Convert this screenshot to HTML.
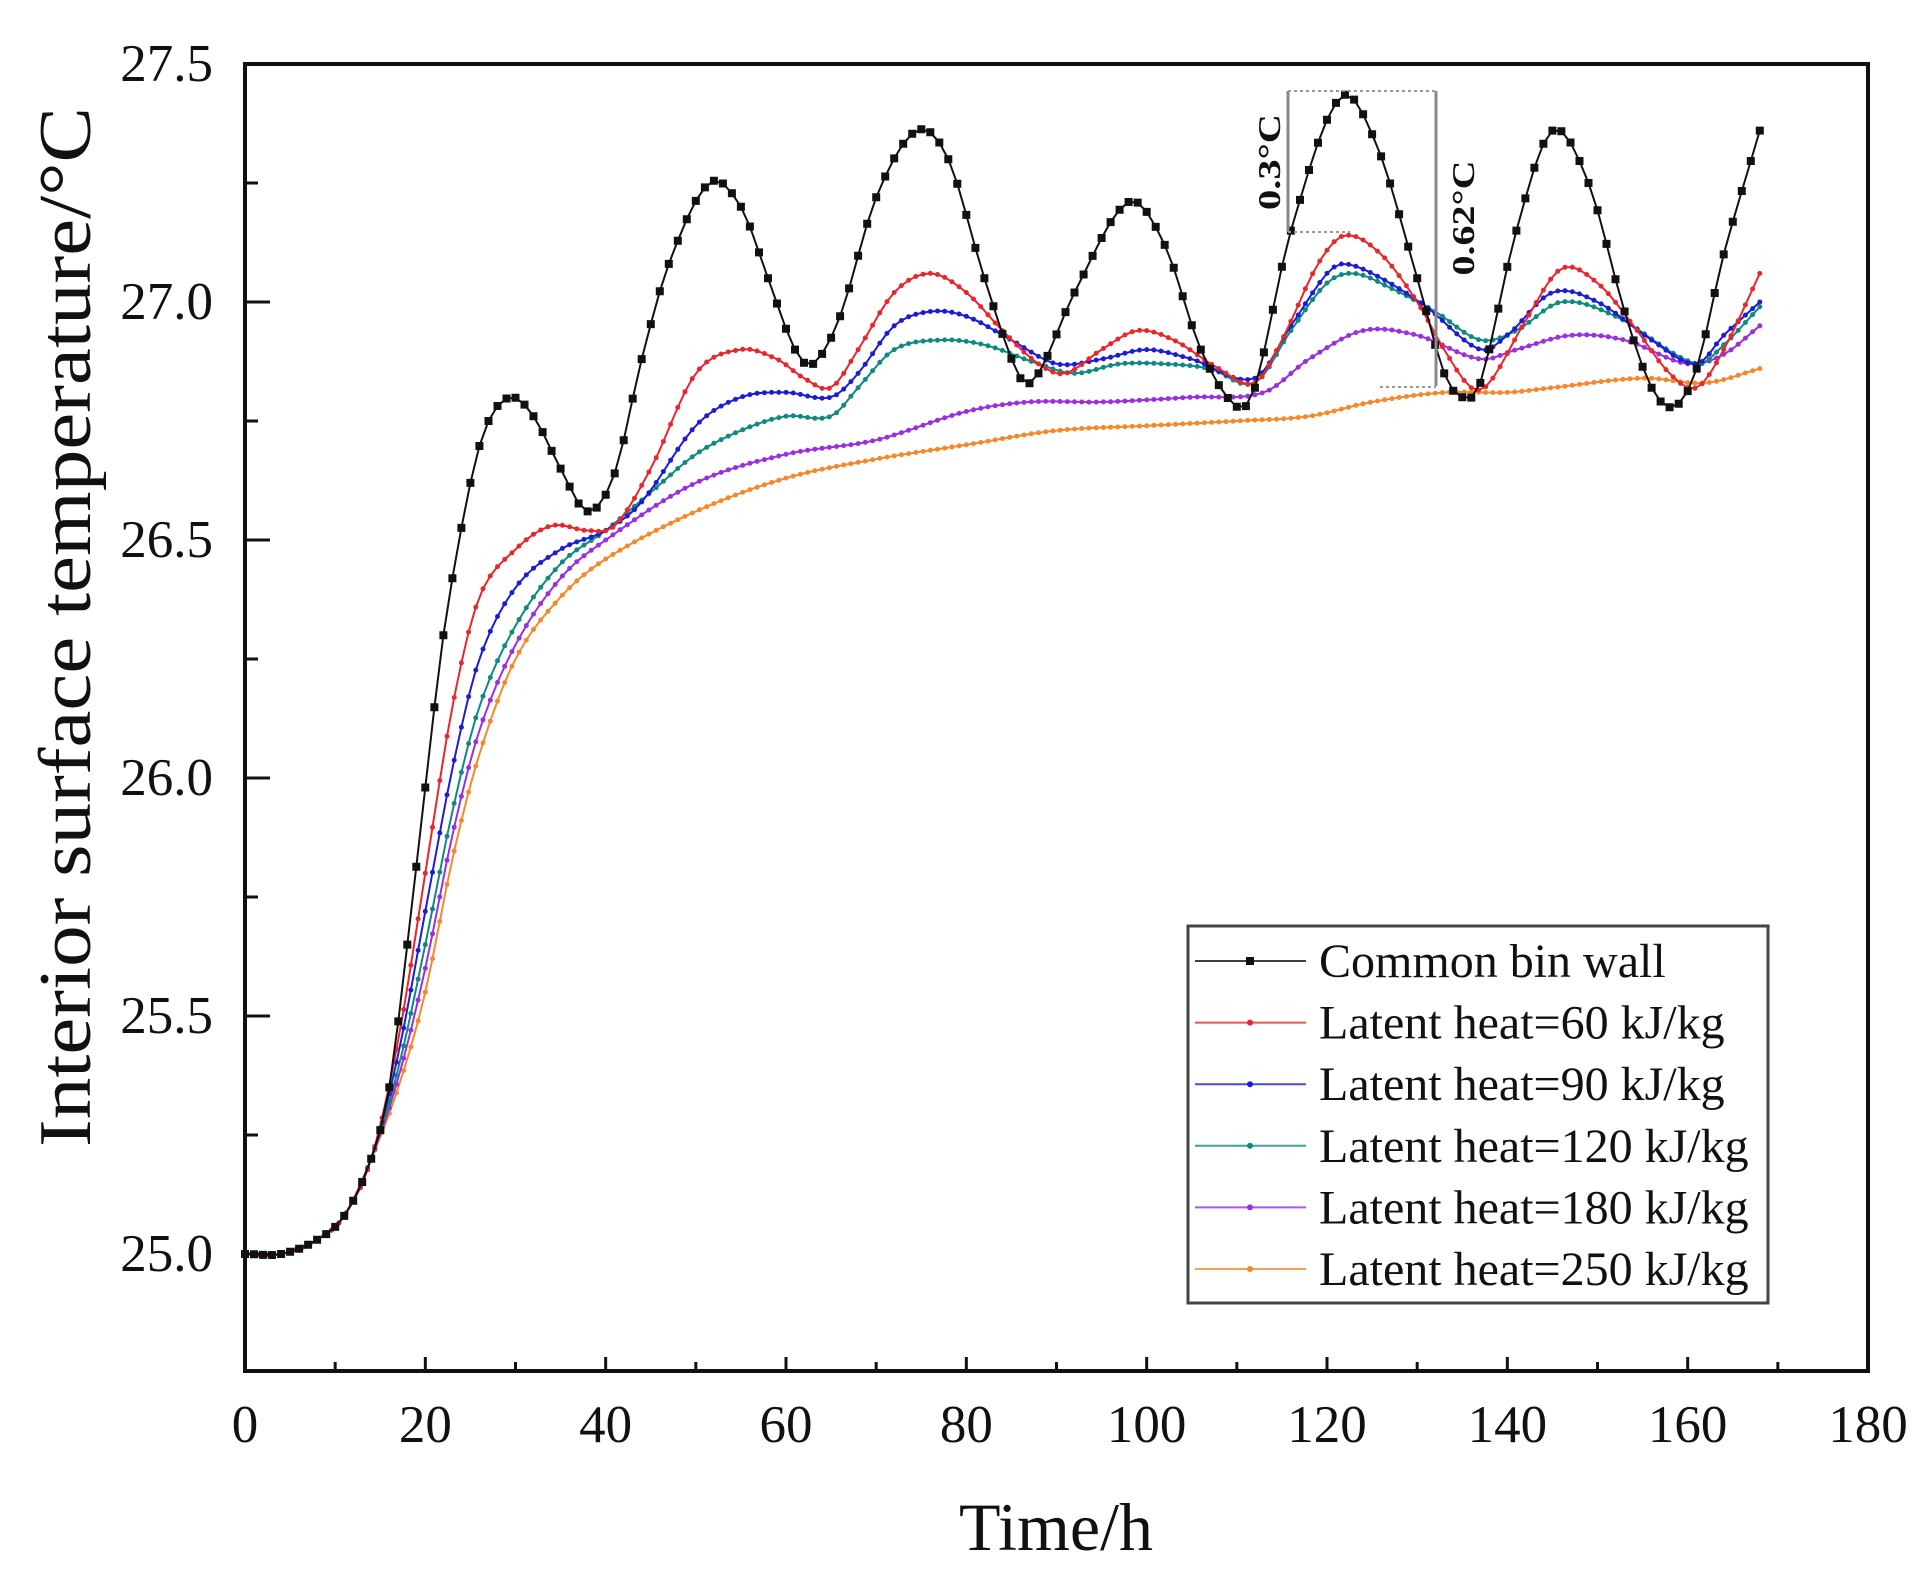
<!DOCTYPE html>
<html><head><meta charset="utf-8"><style>
html,body{margin:0;padding:0;background:#fff;}
svg{display:block;font-family:"Liberation Serif",serif;}
</style></head><body>
<svg id="s" width="1931" height="1586" viewBox="0 0 1931 1586" xmlns="http://www.w3.org/2000/svg">
<rect width="1931" height="1586" fill="#fff"/>
<g id="plot"></g>
<rect x="245" y="64" width="1623" height="1307" fill="none" stroke="#111" stroke-width="4"/>
<g id="ticks" stroke="#111" stroke-width="3"></g>
<g id="labels" font-size="53" fill="#111"></g>
<text x="0" y="0" font-size="74" fill="#111" transform="translate(90,627) rotate(-90)" text-anchor="middle" textLength="1040" lengthAdjust="spacingAndGlyphs">Interior surface temperature/°C</text>
<text x="1056" y="1550" font-size="68" fill="#111" text-anchor="middle">Time/h</text>
<g stroke="#888" stroke-width="3"><line x1="1288" y1="91" x2="1288" y2="232"/><line x1="1436" y1="91" x2="1436" y2="386"/></g>
<g stroke="#999" stroke-width="2" stroke-dasharray="3,3"><line x1="1288" y1="91" x2="1436" y2="91"/><line x1="1288" y1="232" x2="1350" y2="232"/><line x1="1380" y1="387" x2="1436" y2="387"/></g>
<text font-size="32" font-weight="bold" fill="#111" text-anchor="middle" transform="translate(1280,162) rotate(-90)" textLength="96" lengthAdjust="spacingAndGlyphs">0.3°C</text>
<text font-size="32" font-weight="bold" fill="#111" text-anchor="middle" transform="translate(1474,218) rotate(-90)" textLength="115" lengthAdjust="spacingAndGlyphs">0.62°C</text>
<rect x="1188" y="926" width="580" height="377" fill="#fff" stroke="#444" stroke-width="3"/>
<g id="leg" font-size="48" fill="#111"></g>
</svg>
<script>
const X=h=>245+h*9.0167, Y=t=>64+(27.5-t)*476;
const early=[[0,25],[4,25.0],[8,25.03],[11,25.08],[14,25.2]];
const S=[
{c:"#111",p:early.concat([[16,25.35],[18,25.65],[20,25.98],[22,26.3],[25,26.62],[27,26.75],[29.5,26.80],[32,26.76],[35,26.65],[38,26.56],[41,26.64],[44,26.88],[47,27.08],[51.5,27.25],[55,27.2],[58,27.05],[61,26.9],[63,26.87],[66,26.97],[70,27.22],[74.5,27.36],[78,27.3],[82,27.05],[86,26.84],[88,26.85],[92,27.02],[98,27.21],[102,27.12],[106,26.9],[110,26.78],[112,26.82],[116,27.15],[121.5,27.43],[125.5,27.33],[130,27.05],[133,26.85],[135,26.80],[137,26.83],[141,27.15],[145,27.36],[149,27.25],[153,26.98],[156,26.82],[158.5,26.78],[161,26.86],[164,27.1],[168,27.36]])},
{c:"#e8262b",p:early.concat([[17,25.45],[20,25.8],[23,26.15],[26,26.38],[30,26.48],[34,26.53],[38,26.52],[41,26.53],[45,26.65],[50,26.85],[55,26.90],[59,26.88],[62,26.84],[65,26.82],[68,26.9],[72,27.02],[76,27.06],[80,27.02],[84,26.94],[88,26.87],[91,26.85],[95,26.9],[99,26.94],[103,26.92],[108,26.86],[112,26.83],[115,26.92],[119,27.08],[122,27.14],[126,27.1],[130,27.0],[133,26.9],[136,26.82],[138,26.83],[142,26.96],[146,27.07],[150,27.04],[154,26.95],[158,26.85],[161,26.82],[164,26.9],[168,27.06]])},
{c:"#1c1cd6",p:early.concat([[17,25.42],[20,25.72],[23,26.02],[26,26.25],[30,26.40],[35,26.48],[40,26.52],[44,26.58],[50,26.74],[55,26.80],[60,26.81],[65,26.80],[68,26.85],[72,26.95],[76,26.98],[80,26.97],[85,26.92],[90,26.87],[95,26.88],[100,26.90],[105,26.88],[112,26.84],[116,26.95],[120,27.06],[122,27.08],[126,27.05],[131,26.99],[137,26.9],[140,26.93],[145,27.02],[150,27.0],[156,26.92],[161,26.87],[164,26.93],[168,27.0]])},
{c:"#0f8a82",p:early.concat([[17,25.39],[20,25.65],[23,25.93],[26,26.15],[30,26.32],[35,26.45],[40,26.52],[45,26.6],[50,26.68],[55,26.73],[60,26.76],[65,26.76],[68,26.82],[72,26.9],[77,26.92],[82,26.91],[88,26.87],[92,26.85],[97,26.87],[102,26.87],[107,26.86],[112,26.83],[116,26.94],[120,27.04],[123,27.06],[127,27.03],[132,26.98],[137,26.92],[141,26.94],[146,27.0],[152,26.97],[161,26.87],[164,26.91],[168,26.99]])},
{c:"#9a2fe0",p:early.concat([[17,25.37],[20,25.6],[23,25.88],[26,26.1],[30,26.28],[35,26.42],[40,26.5],[50,26.62],[60,26.68],[70,26.71],[80,26.77],[87,26.79],[95,26.79],[105,26.8],[113,26.81],[118,26.88],[124,26.94],[130,26.93],[137,26.88],[141,26.9],[147,26.93],[153,26.92],[160,26.87],[164,26.89],[168,26.95]])},
{c:"#f7882a",p:early.concat([[17,25.35],[20,25.55],[23,25.83],[26,26.05],[30,26.25],[35,26.38],[40,26.46],[50,26.56],[60,26.63],[70,26.67],[80,26.70],[90,26.73],[100,26.74],[110,26.75],[118,26.76],[125,26.79],[133,26.81],[140,26.81],[145,26.82],[155,26.84],[162,26.83],[168,26.86]])}
];
function interp(p,x){
 for(let i=0;i<p.length-1;i++){ if(x<=p[i+1][0]){
  const [x0,y0]=p[i],[x1,y1]=p[i+1]; const t=(x-x0)/(x1-x0);
  const s=i>0?(y1-p[i-1][1])/(x1-p[i-1][0]):(y1-y0)/(x1-x0);
  const e=i<p.length-2?(p[i+2][1]-y0)/(p[i+2][0]-x0):(y1-y0)/(x1-x0);
  const d=x1-x0,h00=2*t*t*t-3*t*t+1,h10=t*t*t-2*t*t+t,h01=-2*t*t*t+3*t*t,h11=t*t*t-t*t;
  return h00*y0+h10*d*s+h01*y1+h11*d*e; } }
 return p[p.length-1][1];}
const NS="http://www.w3.org/2000/svg";
function el(n,a,parent){const e=document.createElementNS(NS,n);for(const k in a)e.setAttribute(k,a[k]);parent.appendChild(e);return e;}
const plot=document.getElementById("plot");
for(let k=S.length-1;k>=0;k--){const s=S[k];let pts=[],mk="";
 for(let h=0;h<=168.01;h+=(k==0?1:0.8)){const x=X(h),y=Y(interp(s.p,h));pts.push(x.toFixed(1)+","+y.toFixed(1));
  if(k==0) mk+=`M${(x-4).toFixed(1)},${(y-4).toFixed(1)}h8v8h-8z`; else mk+=`M${(x-2.5).toFixed(1)},${y.toFixed(1)}a2.5,2.5 0 1,0 5,0a2.5,2.5 0 1,0 -5,0`;}
 el("polyline",{points:pts.join(" "),fill:"none",stroke:s.c,"stroke-width":2},plot);
 el("path",{d:mk,fill:s.c},plot);}
const tk=document.getElementById("ticks"),lb=document.getElementById("labels");
for(let v=0;v<=180;v+=10){const x=X(v);el("line",{x1:x,y1:1371,x2:x,y2:v%20==0?1357:1362},tk);
 if(v%20==0){const t=el("text",{x:x,y:1442,"text-anchor":"middle"},lb);t.textContent=v;}}
for(let i=0;i<=11;i++){const v=25+i*0.25,y=Y(v);if(y>1371)continue;el("line",{x1:245,y1:y,x2:i%2==0?270:258,y2:y},tk);
 if(i%2==0){const t=el("text",{x:213,y:y+17,"text-anchor":"end"},lb);t.textContent=v.toFixed(1);}}
const names=["Common bin wall","Latent heat=60 kJ/kg","Latent heat=90 kJ/kg","Latent heat=120 kJ/kg","Latent heat=180 kJ/kg","Latent heat=250 kJ/kg"];
const lg=document.getElementById("leg");
names.forEach((n,i)=>{const y=961+i*61.6;el("line",{x1:1195,y1:y,x2:1306,y2:y,stroke:S[i].c,"stroke-width":2,opacity:0.8},lg);
 if(i==0)el("rect",{x:1246,y:y-4,width:8,height:8,fill:"#111"},lg);else el("circle",{cx:1250,cy:y,r:3,fill:S[i].c},lg);
 const t=el("text",{x:1319,y:y+16},lg);t.textContent=n;});
</script>
</body></html>
